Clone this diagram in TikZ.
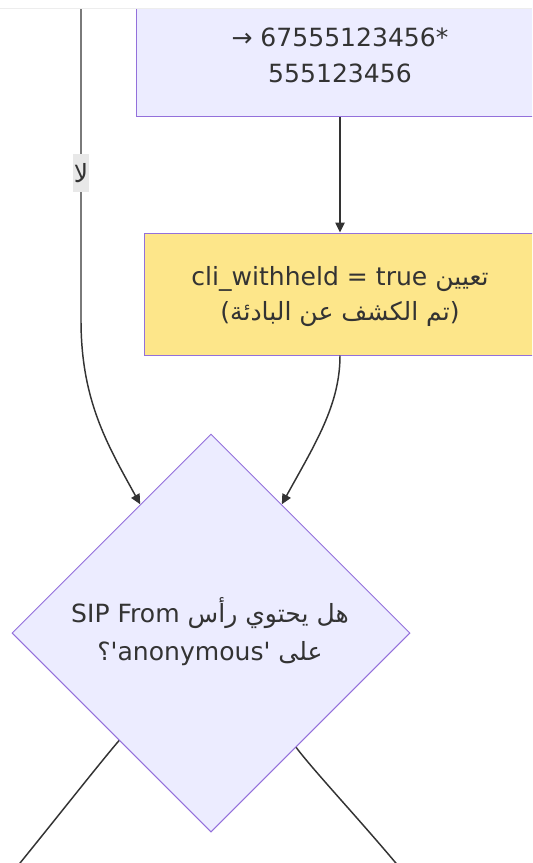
\documentclass[tikz,border=0pt]{standalone}
\usepackage{fontspec}
\setmainfont{DejaVu Sans}
\newfontfamily\lat{DejaVu Sans}
\newfontfamily\arabicfont[Script=Arabic]{DejaVu Sans}
\TeXXeTstate=1
\usetikzlibrary{shapes.geometric,arrows.meta}
\definecolor{nodefill}{HTML}{ECECFF}
\definecolor{nodeline}{HTML}{9370DB}
\definecolor{hlfill}{HTML}{FDE68A}
\definecolor{edgecol}{HTML}{333333}
\definecolor{lblbg}{HTML}{E8E8E8}
\definecolor{txtcol}{HTML}{333333}
\begin{document}
\begin{tikzpicture}[x=0.75pt,y=-0.75pt,
  box/.style={draw=nodeline,line width=0.75pt,fill=nodefill,inner sep=0pt},
  txt/.style={anchor=base,inner sep=0pt,text=txtcol,font=\fontsize{18.8}{24}\selectfont\lat},
  link/.style={draw=edgecol,line width=1.1pt,-{Triangle[length=7.5pt,width=7pt]}},
  plainlink/.style={draw=edgecol,line width=1.1pt},
  lbl/.style={fill=lblbg,inner sep=0pt,minimum width=12pt,minimum height=28.5pt,text=txtcol,font=\fontsize{18.8}{24}\selectfont\arabicfont}]
\useasboundingbox (0,0) rectangle (532,863);
\clip (0,0) rectangle (532,863);
\fill[white] (0,0) rectangle (532,863);

% nodes
\node[box, minimum width=306pt, minimum height=130.5pt] (top) at (340,30) {};
\node[box, fill=hlfill, minimum width=294pt, minimum height=91.5pt] (hl) at (340,294) {};
\node[box, shape=diamond, aspect=1, minimum width=298.5pt, minimum height=298.5pt] (dia) at (211,633) {};

% texts
\node[txt] (t1) at (340,47) {→ 67555123456*};
\node[txt] (t2) at (340,83) {555123456};
\node[txt] (h1) at (340,285) {\beginR{\arabicfont تعيين} \beginL cli\_withheld = true\endL\endR};
\node[txt] (h2) at (340,320) {(\beginR{\arabicfont تم الكشف عن البادئة}\endR)};
\node[txt] (d1) at (210,622) {\beginR{\arabicfont هل يحتوي رأس} \beginL SIP From\endL\endR};
\node[txt] (d2) at (210,660) {\beginR{\arabicfont على} \beginL'anonymous'\endL{\arabicfont ؟}\endR};

% connectors
\coordinate (src) at (81,0);
\coordinate (outL) at (16,868);
\coordinate (outR) at (400,868);
\draw[link] (src) -- (81,320) .. controls (81,400) and (107,444) .. (dia);
\node[lbl] (no) at (81,173) {لا};
\draw[link] (top) -- (hl);
\draw[link] (hl) .. controls (340,405) and (315,444) .. (dia);
\draw[plainlink] (dia) .. controls (99,764) and (55,820) .. (outL);
\draw[plainlink] (dia) .. controls (313,770) and (360,820) .. (outR);

% top band
\fill[white] (0,0) rectangle (532,8);
\fill[black!7] (0,8) rectangle (532,9.5);
\end{tikzpicture}
\end{document}
